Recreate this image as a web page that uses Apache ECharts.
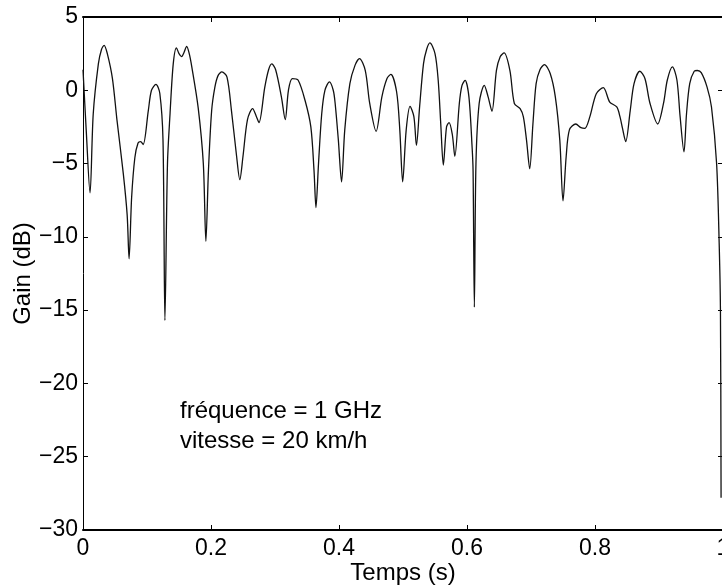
<!DOCTYPE html>
<html>
<head>
<meta charset="utf-8">
<script src="https://cdn.jsdelivr.net/npm/echarts@6/dist/echarts.min.js"></script>
<style>html,body{margin:0;padding:0;background:#fff}#c{width:722px;height:588px}</style>
</head>
<body>
<div id="c"></div>
<script>
// Time samples (s)
const times = [
0.000,0.005,0.011,0.016,0.024,0.029,0.033,0.038,0.046,0.053,0.063,0.069,0.072,0.076,0.081,0.086,0.090,0.094,
0.102,0.107,0.114,0.120,0.125,0.128,0.132,0.136,0.141,0.146,0.150,0.154,0.158,0.162,0.166,0.170,0.180,0.188,
0.192,0.196,0.201,0.206,0.211,0.217,0.225,0.232,0.240,0.245,0.250,0.257,0.265,0.271,0.275,0.284,0.290,0.295,
0.301,0.310,0.316,0.321,0.327,0.336,0.347,0.356,0.361,0.364,0.368,0.373,0.378,0.385,0.391,0.394,0.399,0.404,
0.409,0.417,0.425,0.432,0.441,0.448,0.458,0.467,0.475,0.481,0.490,0.495,0.4995,0.505,0.511,0.517,0.521,0.526,
0.532,0.537,0.542,0.550,0.555,0.559,0.563,0.568,0.572,0.577,0.581,0.588,0.592,0.597,0.603,0.608,0.6095,0.6115,
0.614,0.619,0.627,0.633,0.639,0.646,0.652,0.658,0.667,0.674,0.683,0.688,0.693,0.698,0.703,0.708,0.714,0.721,
0.730,0.738,0.745,0.750,0.755,0.760,0.770,0.778,0.784,0.792,0.802,0.813,0.823,0.834,0.839,0.843,0.848,0.855,
0.861,0.870,0.878,0.886,0.898,0.907,0.913,0.921,0.928,0.933,0.939,0.943,0.948,0.955,0.960,0.966,0.975,0.982,
0.990,0.994,0.996,0.997
];
// Gain (dB)
const gains = [
1.4,-2.7,-7.0,-1.6,1.8,2.8,3.07,2.5,0.8,-2.0,-5.7,-8.5,-11.5,-7.3,-4.6,-3.6,-3.5,-3.7,
-1.4,0.0,0.4,-0.2,-3.4,-15.7,-5.0,-1.6,1.8,2.9,2.5,2.3,2.6,3.0,2.5,1.6,-1.2,-5.0,
-10.3,-5.5,-1.4,0.2,1.0,1.25,0.9,-1.4,-4.5,-6.1,-4.5,-2.0,-1.25,-1.8,-2.2,0.2,1.4,1.8,
1.4,-0.45,-2.0,0.0,0.8,0.7,-0.7,-2.5,-5.5,-8.0,-5.0,-1.6,0.0,0.57,0.0,-0.9,-3.4,-6.25,
-2.7,0.45,1.7,2.16,1.36,-0.9,-2.8,-0.45,0.8,1.09,-0.1,-2.7,-6.25,-2.7,-1.1,-1.8,-3.75,-1.1,
1.8,2.8,3.23,2.5,0.68,-2.3,-5.1,-2.5,-2.2,-3.0,-4.5,-0.9,0.3,0.68,-0.45,-3.9,-5.5,-14.8,
-5.0,-0.9,0.34,-0.45,-1.43,1.36,2.3,2.55,1.36,-0.9,-1.25,-1.8,-3.4,-5.35,-2.3,0.45,1.4,1.75,
1.14,-0.45,-3.4,-7.55,-4.5,-2.7,-2.3,-2.55,-2.6,-1.8,-0.23,0.18,-0.8,-1.14,-1.8,-2.6,-3.5,-1.4,
0.45,1.3,0.8,-0.9,-2.3,-0.9,0.7,1.6,0.7,-1.8,-4.2,-1.6,0.45,1.3,1.35,1.2,0.23,-1.14,
-5.0,-10.4,-15.0,-27.8
];
const xTicks = [0, 0.2, 0.4, 0.6, 0.8, 1];
const yTicks = [-30, -25, -20, -15, -10, -5, 0, 5];
const annotation = ['fréquence = 1 GHz', 'vitesse = 20 km/h'];
const xName = 'Temps (s)';
const yName = 'Gain (dB)';

const FONT = '"Liberation Sans", Arial, Helvetica, sans-serif';
const data = times.map((t, i) => [t, gains[i]]);
const chart = echarts.init(document.getElementById('c'), null, {renderer: 'canvas'});
const axisCommon = {
  axisTick: {show: true, inside: true, length: 5, lineStyle: {color: '#000', width: 1}},
  splitLine: {show: false}
};
chart.setOption({
  animation: false,
  backgroundColor: '#fff',
  grid: {left: 83, top: 17, width: 640, height: 513, containLabel: false, outerBoundsMode: 'none'},
  xAxis: [{
    type: 'value', min: xTicks[0], max: xTicks[xTicks.length - 1], interval: 0.2,
    position: 'bottom',
    name: xName, nameLocation: 'middle', nameGap: 31, nameMoveOverlap: false,
    nameTextStyle: {color: '#000', fontSize: 24, fontFamily: FONT},
    axisLine: {show: true, onZero: false, lineStyle: {color: '#000', width: 2}},
    axisLabel: {color: '#000', fontSize: 23, fontFamily: FONT, margin: 7,
      formatter: v => (Math.round(v * 10) / 10).toString()},
    ...axisCommon
  }, {
    type: 'value', min: xTicks[0], max: xTicks[xTicks.length - 1], interval: 0.2,
    position: 'top',
    axisLine: {show: true, onZero: false, lineStyle: {color: '#000', width: 2}},
    axisLabel: {show: false},
    ...axisCommon
  }],
  yAxis: [{
    type: 'value', min: yTicks[0], max: yTicks[yTicks.length - 1], interval: 5,
    position: 'left',
    name: yName, nameLocation: 'middle', nameGap: 48, nameRotate: 90, nameMoveOverlap: false,
    nameTextStyle: {color: '#000', fontSize: 24, fontFamily: FONT},
    axisLine: {show: true, onZero: false, lineStyle: {color: '#000', width: 1}},
    axisLabel: {color: '#000', fontSize: 23, fontFamily: FONT, margin: 5,
      formatter: v => v < 0 ? '\u2212' + Math.abs(v) : String(v)},
    ...axisCommon
  }, {
    type: 'value', min: yTicks[0], max: yTicks[yTicks.length - 1], interval: 5,
    position: 'right',
    axisLine: {show: true, onZero: false, lineStyle: {color: '#000', width: 1}},
    axisLabel: {show: false},
    ...axisCommon
  }],
  series: [{
    type: 'line', data: data, xAxisIndex: 0, yAxisIndex: 0,
    showSymbol: false, smooth: 0.3,
    lineStyle: {color: '#111', width: 1.3},
    clip: true
  }],
  graphic: [
    {type: 'text', left: 180, top: 399, style: {text: annotation[0], fill: '#000', font: '24px ' + FONT}},
    {type: 'text', left: 180, top: 429, style: {text: annotation[1], fill: '#000', font: '24px ' + FONT}}
  ]
});
</script>
</body>
</html>
